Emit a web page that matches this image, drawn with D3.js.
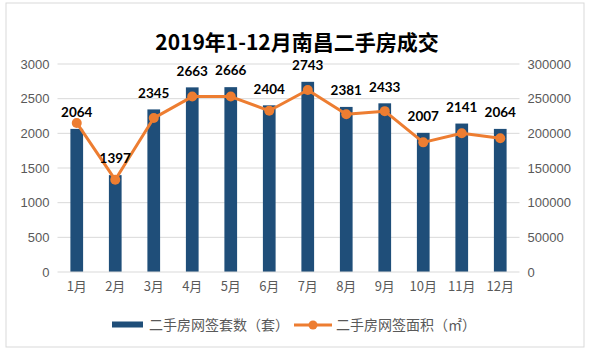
<!DOCTYPE html>
<html><head><meta charset="utf-8">
<script src="https://cdn.jsdelivr.net/npm/d3@7/dist/d3.min.js"></script>
<style>
html,body{margin:0;padding:0;background:#fff;}
svg{display:block;}
text{font-family:"Lato","Noto Sans CJK SC",sans-serif;}
.lgt{font-variant-east-asian:full-width;text-spacing-trim:space-all;font-feature-settings:"fwid" 1;}
</style></head>
<body><svg id="c" width="592" height="352"></svg>
<script>
const months = ["1月","2月","3月","4月","5月","6月","7月","8月","9月","10月","11月","12月"];
const units = [2064,1397,2345,2663,2666,2404,2743,2381,2433,2007,2141,2064];
const areas = [215000,133000,222000,253000,253000,232500,262500,227500,232000,187000,200000,193000];
const leftTicks = [0,500,1000,1500,2000,2500,3000];
const rightTicks = [0,50000,100000,150000,200000,250000,300000];
const title = "2019年1-12月南昌二手房成交";
const legendNames = ["二手房网签套数（套）","二手房网签面积（㎡）"];

const svg = d3.select("#c");
const M = {left:57.5, right:519.5, top:64, bottom:272};
svg.append("rect").attr("x",6).attr("y",3).attr("width",578).attr("height",344)
  .attr("fill","#fff").attr("stroke","#d9d9d9").attr("stroke-width",1);

const x = d3.scaleBand().domain(months).range([M.left,M.right]).paddingInner(0.67).paddingOuter(0.335);
const yL = d3.scaleLinear().domain([0,3000]).range([M.bottom,M.top]);
const yR = d3.scaleLinear().domain([0,300000]).range([M.bottom,M.top]);

// grid
svg.append("g").selectAll("line").data(leftTicks.slice(1)).join("line")
  .attr("x1",M.left).attr("x2",M.right).attr("y1",d=>yL(d)).attr("y2",d=>yL(d))
  .attr("stroke","#d9d9d9").attr("stroke-width",1);

// left axis
const gl = svg.append("g").attr("transform",`translate(${M.left},0)`)
  .call(d3.axisLeft(yL).tickValues(leftTicks).tickSize(0).tickPadding(8).tickFormat(d3.format("d")));
gl.select(".domain").remove();
gl.selectAll("text").attr("fill","#595959").style("font-size","13px").style("font-family","Liberation Sans, sans-serif");

const gr = svg.append("g").attr("transform",`translate(${M.right},0)`)
  .call(d3.axisRight(yR).tickValues(rightTicks).tickSize(0).tickPadding(8).tickFormat(d3.format("d")));
gr.select(".domain").remove();
gr.selectAll("text").attr("fill","#595959").style("font-size","13px").style("font-family","Liberation Sans, sans-serif");

// bars
svg.append("g").selectAll("rect").data(units).join("rect")
  .attr("x",(d,i)=>x(months[i])).attr("width",x.bandwidth())
  .attr("y",d=>yL(d)).attr("height",d=>yL(0)-yL(d)).attr("fill","#1f4e79");

// baseline
svg.append("line").attr("x1",M.left).attr("x2",M.right).attr("y1",yL(0)).attr("y2",yL(0))
  .attr("stroke","#d9d9d9");

// bottom axis
const gb = svg.append("g").attr("transform",`translate(0,${M.bottom})`)
  .call(d3.axisBottom(x).tickSize(0).tickPadding(10));
gb.select(".domain").remove();
gb.selectAll("text").attr("fill","#595959").style("font-size","13px").style("font-family","Noto Sans CJK SC, sans-serif");

// line
const cx = i => x(months[i]) + x.bandwidth()/2;
const line = d3.line().x((d,i)=>cx(i)).y(d=>yR(d));
svg.append("path").datum(areas).attr("d",line).attr("fill","none")
  .attr("stroke","#ed7d31").attr("stroke-width",3).attr("stroke-linejoin","round");
svg.append("g").selectAll("circle").data(areas).join("circle")
  .attr("cx",(d,i)=>cx(i)).attr("cy",d=>yR(d)).attr("r",5).attr("fill","#ed7d31");

// value labels
svg.append("g").selectAll("text").data(units).join("text")
  .attr("x",(d,i)=>cx(i)).attr("y",d=>yL(d)-16.5).attr("dy","0.35em")
  .attr("text-anchor","middle").style("font-weight","bold").style("font-size","13.5px")
  .attr("fill","#000").text(d=>d);

// title
svg.append("text").attr("x",297).attr("y",43).attr("dy","0.35em").attr("text-anchor","middle")
  .style("font-family","Noto Sans CJK SC, sans-serif").style("font-weight","bold").style("font-size","21px")
  .attr("fill","#000").text(title);

// legend
const lg = svg.append("g");
lg.append("rect").attr("x",112).attr("y",321.5).attr("width",31).attr("height",6).attr("fill","#1f4e79");
lg.append("text").attr("class","lgt").attr("x",149).attr("y",325).attr("dy","0.35em").style("font-size","14px")
  .style("font-family","Noto Sans CJK SC, sans-serif").attr("fill","#595959").text(legendNames[0]);
lg.append("line").attr("x1",294).attr("x2",332).attr("y1",325).attr("y2",325).attr("stroke","#ed7d31").attr("stroke-width",3);
lg.append("circle").attr("cx",313).attr("cy",325).attr("r",4.5).attr("fill","#ed7d31");
lg.append("text").attr("class","lgt").attr("x",336).attr("y",325).attr("dy","0.35em").style("font-size","14px")
  .style("font-family","Noto Sans CJK SC, sans-serif").attr("fill","#595959").text(legendNames[1]);
</script></body></html>
